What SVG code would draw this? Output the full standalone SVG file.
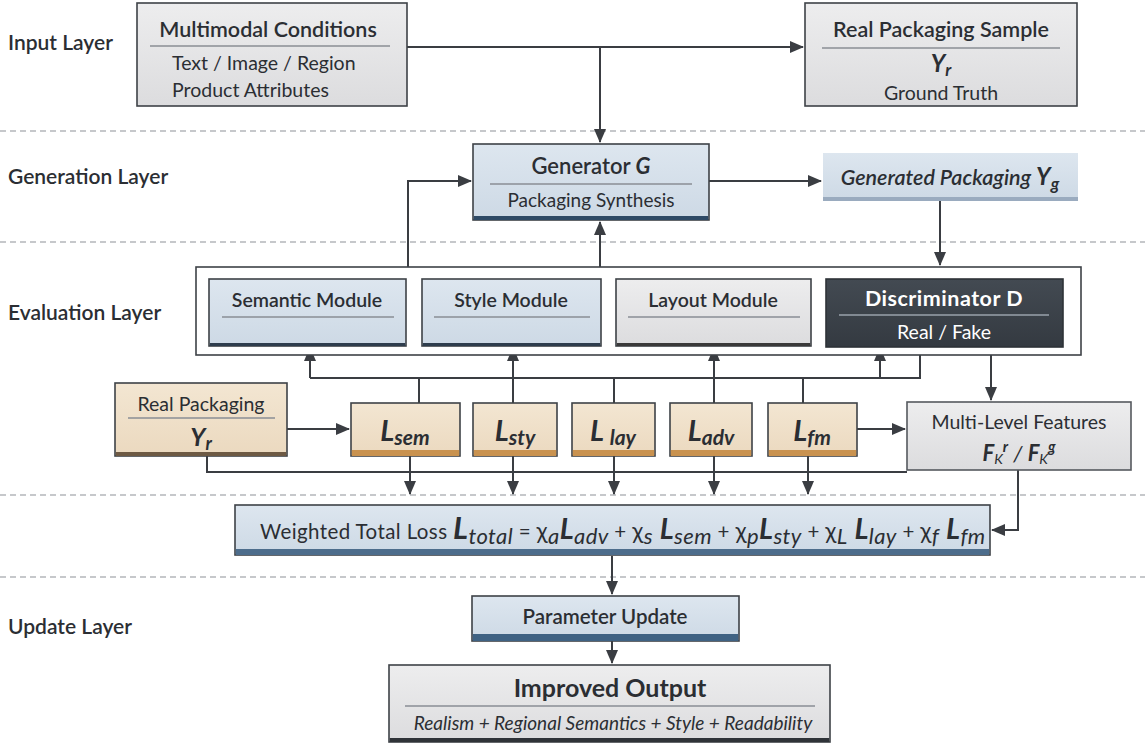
<svg xmlns="http://www.w3.org/2000/svg" width="1145" height="746" viewBox="0 0 1145 746">
<defs>
<marker id="ah" viewBox="0 0 14 12" refX="13" refY="6" markerWidth="14" markerHeight="12" markerUnits="userSpaceOnUse" orient="auto">
<path d="M0,0 L14,6 L0,12 Z" fill="#3a3d42"/>
</marker>
<linearGradient id="gGray" x1="0" y1="0" x2="0" y2="1"><stop offset="0" stop-color="#ededee"/><stop offset="1" stop-color="#dcdcde"/></linearGradient>
<linearGradient id="gBlue" x1="0" y1="0" x2="0" y2="1"><stop offset="0" stop-color="#dde6ef"/><stop offset="1" stop-color="#cdd9e5"/></linearGradient>
<linearGradient id="gBeige" x1="0" y1="0" x2="0" y2="1"><stop offset="0" stop-color="#f3e6d2"/><stop offset="1" stop-color="#ebd9bf"/></linearGradient>
<linearGradient id="gDark" x1="0" y1="0" x2="0" y2="1"><stop offset="0" stop-color="#434a52"/><stop offset="1" stop-color="#343a41"/></linearGradient>
</defs>
<style>
text{font-family:Lato,"Liberation Sans",sans-serif;fill:#2b2e33}
.lay{font-size:21px;font-weight:600}
.ttl{font-size:21.5px;font-weight:600;text-anchor:middle}
.mod{font-size:19.5px;font-weight:600;text-anchor:middle}
.sub{font-size:19.5px;text-anchor:middle}
.lft{font-size:19.5px}
.m{font-weight:700;font-style:italic}
.dash{stroke:#b4b6ba;stroke-width:1.6;stroke-dasharray:6 4;fill:none}
.sep{stroke:#8a8e94;stroke-width:1.4}
.box{stroke:#3e4247;stroke-width:1.6}
.con{stroke:#3a3d42;stroke-width:2;fill:none}
.arr{marker-end:url(#ah)}
</style>
<rect width="1145" height="746" fill="#ffffff"/>

<g id="layers">
<line class="dash" x1="0" y1="131" x2="1145" y2="131"/>
<line class="dash" x1="0" y1="242" x2="1145" y2="242"/>
<line class="dash" x1="0" y1="495" x2="1145" y2="495"/>
<line class="dash" x1="0" y1="577" x2="1145" y2="577"/>
<text class="lay" x="8" y="50">Input Layer</text>
<text class="lay" x="8" y="184">Generation Layer</text>
<text class="lay" x="8" y="320">Evaluation Layer</text>
<text class="lay" x="8" y="634">Update Layer</text>
</g>

<g id="connectors">
<path class="con arr" d="M407,47 H803"/>
<path class="con arr" d="M600,47 V142"/>
<path class="con arr" d="M709,181 H821"/>
<path class="con arr" d="M940,201 V265"/>
<path class="con arr" d="M408,267 V181 H471"/>
<path class="con arr" d="M600,267 V222"/>
<path class="con" d="M920,347 V378 H310"/>
<path class="con arr" d="M310,378 V348"/>
<path class="con arr" d="M513,403 V348"/>
<path class="con arr" d="M714,403 V348"/>
<path class="con arr" d="M880,378 V348"/>
<path class="con" d="M419,378 V403"/>
<path class="con" d="M614,378 V403"/>
<path class="con" d="M803,378 V403"/>
<path class="con arr" d="M991,347 V400"/>
<path class="con arr" d="M287,429 H349"/>
<path class="con arr" d="M857,429 H905"/>
<path class="con" d="M207,456 V472 H907"/>
<path class="con arr" d="M410,456 V494"/>
<path class="con arr" d="M513,456 V494"/>
<path class="con arr" d="M614,456 V494"/>
<path class="con arr" d="M714,456 V494"/>
<path class="con arr" d="M808,456 V494"/>
<path class="con arr" d="M1018,470 V530 H992"/>
<path class="con arr" d="M612,556 V594"/>
<path class="con arr" d="M612,641 V663"/>
</g>

<g id="multimodal">
<rect class="box" x="137" y="3" width="270" height="103" fill="url(#gGray)"/>
<text class="ttl" x="268" y="37">Multimodal Conditions</text>
<line class="sep" x1="150" y1="46" x2="390" y2="46"/>
<text class="lft" x="172" y="70">Text / Image / Region</text>
<text class="lft" x="172" y="97">Product Attributes</text>
</g>

<g id="real-sample">
<rect class="box" x="805" y="3" width="272" height="103" fill="url(#gGray)"/>
<text class="ttl" x="941" y="37">Real Packaging Sample</text>
<line class="sep" x1="822" y1="48" x2="1060" y2="48"/>
<text class="m" x="941" y="72" font-size="24" text-anchor="middle">Y<tspan font-size="17" dy="4">r</tspan></text>
<text class="sub" x="941" y="100">Ground Truth</text>
</g>

<g id="generator">
<rect class="box" x="473" y="144" width="236" height="76" fill="url(#gBlue)"/>
<rect x="473.8" y="216" width="234.4" height="4" fill="#2e4a66"/>
<text class="ttl" x="591" y="174" style="font-size:22px">Generator <tspan font-style="italic" font-weight="700">G</tspan></text>
<line class="sep" x1="490" y1="184" x2="692" y2="184"/>
<text class="sub" x="591" y="207" style="font-size:19px">Packaging Synthesis</text>
</g>

<g id="generated">
<rect x="823" y="153" width="255" height="48" fill="url(#gBlue)"/>
<rect x="823" y="197" width="255" height="4" fill="#9aabbf"/>
<text x="950" y="185" font-size="21.5" font-style="italic" font-weight="600" text-anchor="middle">Generated Packaging <tspan font-weight="700" font-size="24">Y</tspan><tspan font-size="17" font-weight="700" dy="5">g</tspan></text>
</g>

<g id="evaluation">
<rect x="196" y="267" width="885" height="88" fill="#ffffff" stroke="#3e4247" stroke-width="1.6"/>
</g>

<g id="semantic">
<rect class="box" x="209" y="279" width="197" height="67" fill="url(#gBlue)"/>
<rect x="209.8" y="343" width="195.4" height="3" fill="#2e3d4d"/>
<text class="mod" x="307" y="307">Semantic Module</text>
<line class="sep" x1="222" y1="317" x2="394" y2="317"/>
</g>

<g id="style">
<rect class="box" x="422" y="279" width="179" height="67" fill="url(#gBlue)"/>
<rect x="422.8" y="343" width="177.4" height="3" fill="#2e3d4d"/>
<text class="mod" x="511" y="307">Style Module</text>
<line class="sep" x1="434" y1="317" x2="590" y2="317"/>
</g>

<g id="layout">
<rect class="box" x="616" y="279" width="195" height="67" fill="url(#gGray)"/>
<rect x="616.8" y="343" width="193.4" height="3" fill="#3a3a3a"/>
<text class="mod" x="713" y="307">Layout Module</text>
<line class="sep" x1="628" y1="317" x2="800" y2="317"/>
</g>

<g id="discriminator">
<rect x="826" y="279" width="237" height="68" fill="url(#gDark)" stroke="#2e3237" stroke-width="1.6"/>
<text class="ttl" x="944" y="306" style="fill:#ffffff;font-weight:700" letter-spacing="0.5">Discriminator  D</text>
<line x1="839" y1="315" x2="1049" y2="315" stroke="#9aa2ab" stroke-width="1.4"/>
<text class="sub" x="944" y="339" style="fill:#ffffff">Real / Fake</text>
</g>

<g id="real-packaging">
<rect class="box" x="115" y="383" width="172" height="73" fill="url(#gBeige)"/>
<rect x="115.8" y="452" width="170.4" height="4" fill="#6e5a44"/>
<text class="sub" x="201" y="411">Real Packaging</text>
<line class="sep" x1="128" y1="418" x2="275" y2="418"/>
<text class="m" x="201" y="446" font-size="25" text-anchor="middle">Y<tspan font-size="18" dy="4">r</tspan></text>
</g>

<g id="l-sem">
<rect class="box" x="351" y="403" width="109" height="53" fill="url(#gBeige)"/>
<rect x="351.8" y="450" width="107.4" height="6" fill="#c9924f"/>
<text class="m" x="405" y="441" font-size="29" text-anchor="middle">L<tspan font-size="21" dy="4">sem</tspan></text>
</g>
<g id="l-sty">
<rect class="box" x="473" y="403" width="84" height="53" fill="url(#gBeige)"/>
<rect x="473.8" y="450" width="82.4" height="6" fill="#c9924f"/>
<text class="m" x="515" y="441" font-size="29" text-anchor="middle">L<tspan font-size="21" dy="4">sty</tspan></text>
</g>
<g id="l-lay">
<rect class="box" x="572" y="403" width="83" height="53" fill="url(#gBeige)"/>
<rect x="572.8" y="450" width="81.4" height="6" fill="#c9924f"/>
<text class="m" x="613" y="441" font-size="29" text-anchor="middle">L <tspan font-size="21" dy="4">lay</tspan></text>
</g>
<g id="l-adv">
<rect class="box" x="670" y="403" width="82" height="53" fill="url(#gBeige)"/>
<rect x="670.8" y="450" width="80.4" height="6" fill="#c9924f"/>
<text class="m" x="711" y="441" font-size="29" text-anchor="middle">L<tspan font-size="21" dy="4">adv</tspan></text>
</g>
<g id="l-fm">
<rect class="box" x="768" y="403" width="89" height="53" fill="url(#gBeige)"/>
<rect x="768.8" y="450" width="87.4" height="6" fill="#c9924f"/>
<text class="m" x="812" y="441" font-size="29" text-anchor="middle">L<tspan font-size="21" dy="4">fm</tspan></text>
</g>

<g id="multilevel">
<rect x="907" y="402" width="224" height="68" fill="url(#gGray)" stroke="#55595e" stroke-width="1.6"/>
<text class="sub" x="1019" y="429">Multi-Level Features</text>
<text class="m" x="1019" y="461" font-size="22" text-anchor="middle">F<tspan font-size="14" font-weight="400" dy="3">K</tspan><tspan font-size="15" dy="-12">r</tspan><tspan dy="9" font-weight="400"> / </tspan>F<tspan font-size="14" font-weight="400" dy="3">K</tspan><tspan font-size="15" dy="-12">g</tspan></text>
</g>

<g id="total-loss">
<rect class="box" x="235" y="505" width="755" height="50" fill="url(#gBlue)"/>
<rect x="235.8" y="549" width="753.4" height="6" fill="#4d6d8c"/>
<text x="260" y="539" font-size="20.5" letter-spacing="0.4">Weighted Total Loss <tspan class="m" font-size="31">L</tspan><tspan font-style="italic" font-size="22" dy="5">total</tspan><tspan dy="-5"> = </tspan><tspan font-size="23">χ</tspan><tspan font-style="italic" font-size="22" dy="5">a</tspan><tspan class="m" font-size="29" dy="-5">L</tspan><tspan font-style="italic" font-size="22" dy="5">adv</tspan><tspan dy="-5">  +  </tspan><tspan font-size="23">χ</tspan><tspan font-style="italic" font-size="22" dy="5">s</tspan><tspan class="m" font-size="29" dy="-5"> L</tspan><tspan font-style="italic" font-size="22" dy="5">sem</tspan><tspan dy="-5">  +  </tspan><tspan font-size="23">χ</tspan><tspan font-style="italic" font-size="22" dy="5">p</tspan><tspan class="m" font-size="29" dy="-5">L</tspan><tspan font-style="italic" font-size="22" dy="5">sty</tspan><tspan dy="-5">  +  </tspan><tspan font-size="23">χ</tspan><tspan font-style="italic" font-size="22" dy="5">L</tspan><tspan class="m" font-size="29" dy="-5"> L</tspan><tspan font-style="italic" font-size="22" dy="5">lay</tspan><tspan dy="-5">  +  </tspan><tspan font-size="23">χ</tspan><tspan font-style="italic" font-size="22" dy="5">f</tspan><tspan class="m" font-size="29" dy="-5"> L</tspan><tspan font-style="italic" font-size="22" dy="5">fm</tspan></text>
</g>

<g id="param-update">
<rect class="box" x="472" y="596" width="267" height="45" fill="url(#gBlue)"/>
<rect x="472.8" y="634" width="265.4" height="7" fill="#3f6283"/>
<text class="ttl" x="605" y="624" style="font-size:20.5px">Parameter Update</text>
</g>

<g id="improved">
<rect class="box" x="389" y="665" width="441" height="77" fill="url(#gGray)"/>
<rect x="389.8" y="738" width="439.4" height="4" fill="#2f3338"/>
<text class="ttl" x="610" y="697" style="font-size:25px;font-weight:700">Improved Output</text>
<line class="sep" x1="405" y1="706" x2="815" y2="706"/>
<text x="613" y="730" font-size="19" font-style="italic" text-anchor="middle">Realism + Regional Semantics + Style + Readability</text>
</g>
</svg>
